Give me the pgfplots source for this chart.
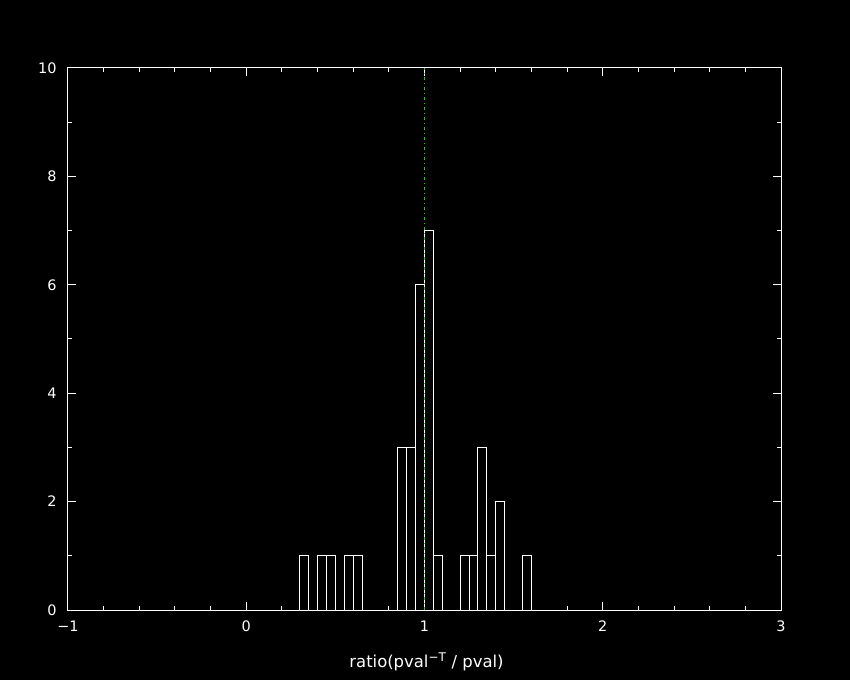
\documentclass[border=0pt]{standalone}
\usepackage{fontspec}
\setmainfont{DejaVu Sans}
\usepackage{pgfplots}
\pgfplotsset{compat=1.18}
\definecolor{dgreen}{RGB}{20,210,20}
\begin{document}
\begin{tikzpicture}
\fill[black] (-68bp,-70bp) rectangle (782bp,610bp);
\begin{axis}[
  at={(0,0)}, anchor=south west,
  scale only axis, width=713bp, height=542bp,
  xmin=-1, xmax=3, ymin=0, ymax=10,
  axis line style={white, line width=1bp},
  every tick/.style={white, line width=1bp},
  major tick length=8bp, minor tick length=4bp,
  tick align=inside,
  xtick={-1,0,1,2,3}, xticklabels={−1,0,1,2,3},
  minor x tick num=4,
  ytick={0,2,4,6,8,10}, yticklabels={0,2,4,6,8,10},
  minor y tick num=1,
  ticklabel style={font=\fontsize{14.5}{17}\selectfont, text=white},
  xticklabel style={yshift=-7bp},
  yticklabel style={xshift=-8bp},
  xlabel={ratio(pval\textsuperscript{\fontsize{12}{14}\selectfont −T} / pval)},
  xlabel style={font=\fontsize{16.5}{19}\selectfont, text=white, at={(axis description cs:0.5,0)}, anchor=center, yshift=-52bp, xshift=2bp},
  clip=false,
]
\addplot[ybar interval, draw=white, fill=none, line width=1bp] coordinates {
(0.30,1)(0.35,0)(0.40,1)(0.45,1)(0.50,0)(0.55,1)(0.60,1)(0.65,0)
(0.85,3)(0.90,3)(0.95,6)(1.00,7)(1.05,1)(1.10,0)
(1.20,1)(1.25,1)(1.30,3)(1.35,1)(1.40,2)(1.45,0)(1.55,1)(1.60,0)
};
\addplot[dgreen, line width=1bp, dash pattern=on 3bp off 3bp on 1bp off 3bp] coordinates {(1,0)(1,10)};
\end{axis}
\end{tikzpicture}
\end{document}
